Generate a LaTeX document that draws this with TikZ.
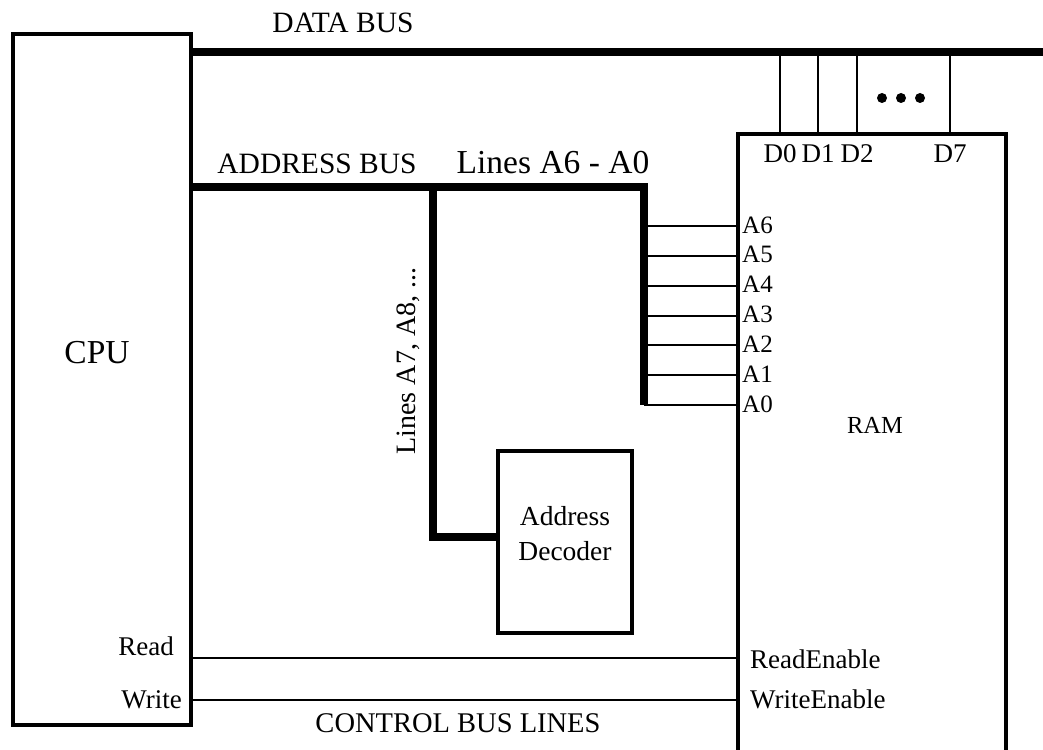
\documentclass[tikz,border=0pt]{standalone}
\usepackage{fontspec}
\setmainfont{Liberation Serif}
\usetikzlibrary{calc}

\newcommand{\fs}[1]{\fontsize{#1}{#1}\selectfont}

\begin{document}
\begin{tikzpicture}[
    x=1pt, y=-1pt,
    box/.style={draw, line width=4pt, inner sep=0pt},
    bus/.style={draw, line width=8pt},
    wire/.style={draw, line width=2pt},
    txt/.style={inner sep=0pt, anchor=base, font=\fs{27}},
    dot/.style={circle, fill, inner sep=0pt, minimum size=10pt}
]
    \useasboundingbox (0,0) rectangle (1043,749);
    \clip (0,0) rectangle (1043,749);

    \node [box, minimum width=178pt, minimum height=691pt] (cpu) at (102,379.5) {};
    \node [box, minimum width=268pt, minimum height=700pt] (ram) at (872,484) {};
    \node [box, minimum width=134pt, minimum height=182pt] (dec) at (565,542) {};

    \node [txt, font=\fs{33.5}] (cpulabel) at (97,363) {CPU};
    \node [txt, font=\fs{24.5}] (ramlabel) at (875,433) {RAM};
    \node [txt, font=\fs{27.5}] (declabel1) at (565,525) {Address};
    \node [txt, font=\fs{27.5}] (declabel2) at (565,560) {Decoder};

    \node [txt, font=\fs{29.5}] (dbuslabel) at (343,33) {DATA BUS};
    \node [txt, font=\fs{29.5}] (abuslabel) at (317,173) {ADDRESS BUS};
    \node [txt, font=\fs{33.5}] (lolabel) at (553,173) {Lines A6 - A0};
    \node [txt, font=\fs{28}, rotate=90] (hilabel) at (415,361) {Lines A7, A8, ...};
    \node [txt, font=\fs{28.5}] (cbuslabel) at (458,732) {CONTROL BUS LINES};

    \coordinate (dbus) at (1043,52);
    \draw [bus] (dbus -| cpu.east) -- (dbus);

    \foreach \n/\x in {0/780, 1/818, 2/857, 7/950} {
        \coordinate (d\n) at (\x,134);
        \draw [wire] (d\n |- dbus) -- (d\n);
        \node [txt] (dlabel\n) at ($(d\n)+(0,28)$) {D\n};
    }
    \foreach \x [count=\k] in {882,901,920}
        \node [dot] (dot\k) at (\x,98) {};

    \coordinate (abus) at (644,187);
    \coordinate (abot) at (644,405);
    \draw [bus] (abus -| cpu.east) -- (abus) -- (abot);

    \coordinate (btop) at (433,187);
    \coordinate (bjoin) at ($(dec.west)+(0,-5)$);
    \draw [bus] (btop) -- (btop |- bjoin) -- (bjoin);

    \foreach \i in {0,...,6} {
        \coordinate (a\i) at ($(ram.west |- abot)+(0,-\i*29.83)$);
        \draw [wire] (a\i -| abot) -- (a\i);
        \node [txt, anchor=base west, font=\fs{25}] (alabel\i) at ($(a\i)+(6,7)$) {A\i};
    }

    \coordinate (readen) at (738,658);
    \coordinate (writeen) at (738,700);
    \draw [wire] (readen -| cpu.east) -- (readen);
    \draw [wire] (writeen -| cpu.east) -- (writeen);

    \node [txt, anchor=base east] (readlabel) at (174,655) {Read};
    \node [txt, anchor=base east] (writelabel) at (182,708) {Write};
    \node [txt, anchor=base west] (relabel) at (750,668) {ReadEnable};
    \node [txt, anchor=base west] (welabel) at (750,708) {WriteEnable};
\end{tikzpicture}
\end{document}
